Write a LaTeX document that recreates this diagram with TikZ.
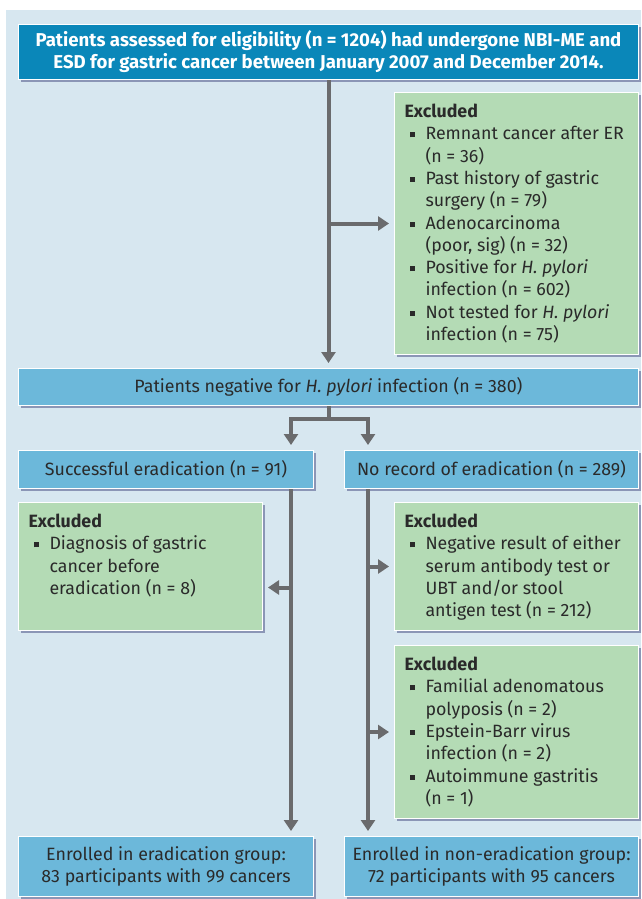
\documentclass[tikz,border=0pt]{standalone}
\usepackage{fontspec}
\setmainfont{Fira Sans}
\usetikzlibrary{arrows.meta,shadows}
\definecolor{bgc}{HTML}{D7E7F0}
\definecolor{topc}{HTML}{0A87B9}
\definecolor{midc}{HTML}{6CB8DA}
\definecolor{grc}{HTML}{B4DBB5}
\definecolor{arrc}{HTML}{6A6B6D}
\definecolor{txc}{HTML}{2A2A2A}
\newcommand\bul{\makebox[21pt][l]{\hspace{5.5pt}\rule[2.5pt]{5pt}{5pt}}}
\newcommand\ind{\hspace*{21pt}}
\newcommand\exhead{\rule{0pt}{19pt}\textbf{Excluded}}
\begin{document}
\begin{tikzpicture}[x=1pt,y=-1pt,
  basebox/.style={draw=white,line width=1pt,anchor=north west,
    drop shadow={shadow xshift=2.5pt,shadow yshift=-2.5pt,opacity=0.35,fill=black!70!blue}},
  topbox/.style={basebox,fill=topc,text=white,font=\fontsize{18.6}{22}\selectfont\bfseries,
    align=center,inner sep=0pt},
  midbox/.style={basebox,fill=midc,text=txc,font=\fontsize{17.8}{22}\selectfont,
    align=center,inner sep=0pt},
  exbox/.style={basebox,fill=grc,text=txc,font=\fontsize{17.8}{22.3}\selectfont,
    inner xsep=10pt,inner ysep=6pt,align=left},
  arr/.style={draw=arrc,line width=4pt,-{Triangle[width=14pt,length=11pt]},shorten >=5pt}
]
\useasboundingbox (0,0) rectangle (641,899);
\fill[bgc] (6,10) rectangle (641,899);

\node[topbox,minimum width=620pt,minimum height=55pt] (top) at (18,24)
  {Patients assessed for eligibility (n = 1204) had undergone NBI-ME and\\
   ESD for gastric cancer between January 2007 and December 2014.};

\node[exbox] (ex1) at (394,92) {\parbox[t][250pt][t]{224pt}{\exhead\\
  \bul Remnant cancer after ER\\
  \ind (n = 36)\\
  \bul Past history of gastric\\
  \ind surgery (n = 79)\\
  \bul Adenocarcinoma\\
  \ind (poor, sig) (n = 32)\\
  \bul Positive for \textit{H. pylori}\\
  \ind infection (n = 602)\\
  \bul Not tested for \textit{H. pylori}\\
  \ind infection (n = 75)}};

\node[midbox,minimum width=620pt,minimum height=37pt] (box2) at (18,368)
  {Patients negative for \textit{H. pylori} infection (n = 380)};

\node[midbox,minimum width=295pt,minimum height=38pt] (box3) at (18,450)
  {Successful eradication (n = 91)};
\node[midbox,minimum width=294pt,minimum height=38pt] (box4) at (344,450)
  {No record of eradication (n = 289)};

\node[exbox] (exL) at (18,502) {\parbox[t][116pt][t]{224pt}{\exhead\\
  \bul Diagnosis of gastric\\
  \ind cancer before\\
  \ind eradication (n = 8)}};

\node[exbox] (exR1) at (394,502) {\parbox[t][116pt][t]{224pt}{\exhead\\
  \bul Negative result of either\\
  \ind serum antibody test or\\
  \ind UBT and/or stool\\
  \ind antigen test (n = 212)}};

\node[exbox] (exR2) at (394,645) {\parbox[t][161pt][t]{224pt}{\exhead\\
  \bul Familial adenomatous\\
  \ind polyposis (n = 2)\\
  \bul Epstein-Barr virus\\
  \ind infection (n = 2)\\
  \bul Autoimmune gastritis\\
  \ind (n = 1)}};

\node[midbox,minimum width=295pt,minimum height=60pt] (box5) at (18,836)
  {Enrolled in eradication group:\\83 participants with 99 cancers};
\node[midbox,minimum width=294pt,minimum height=60pt] (box6) at (344,836)
  {Enrolled in non-eradication group:\\72 participants with 95 cancers};

\coordinate (xl) at (291,0);
\coordinate (xr) at (368,0);
\coordinate (exLa) at ([yshift=-21pt]exL.east);

\draw[arr] (top.south) -- (box2.north);
\draw[arr] (top.south |- ex1.west) -- (ex1.west);
\draw[arr] (box2.south) -- ++(0,13) -| (xl |- box3.north);
\draw[arr] (box2.south) -- ++(0,13) -| (xr |- box4.north);
\draw[arr] (xl |- box3.south) -- (xl |- box5.north);
\draw[arr] (xr |- box4.south) -- (xr |- box6.north);
\draw[arr] (xl |- exLa) -- (exLa);
\draw[arr] (xr |- exR1.west) -- (exR1.west);
\draw[arr] (xr |- exR2.west) -- (exR2.west);
\end{tikzpicture}
\end{document}
